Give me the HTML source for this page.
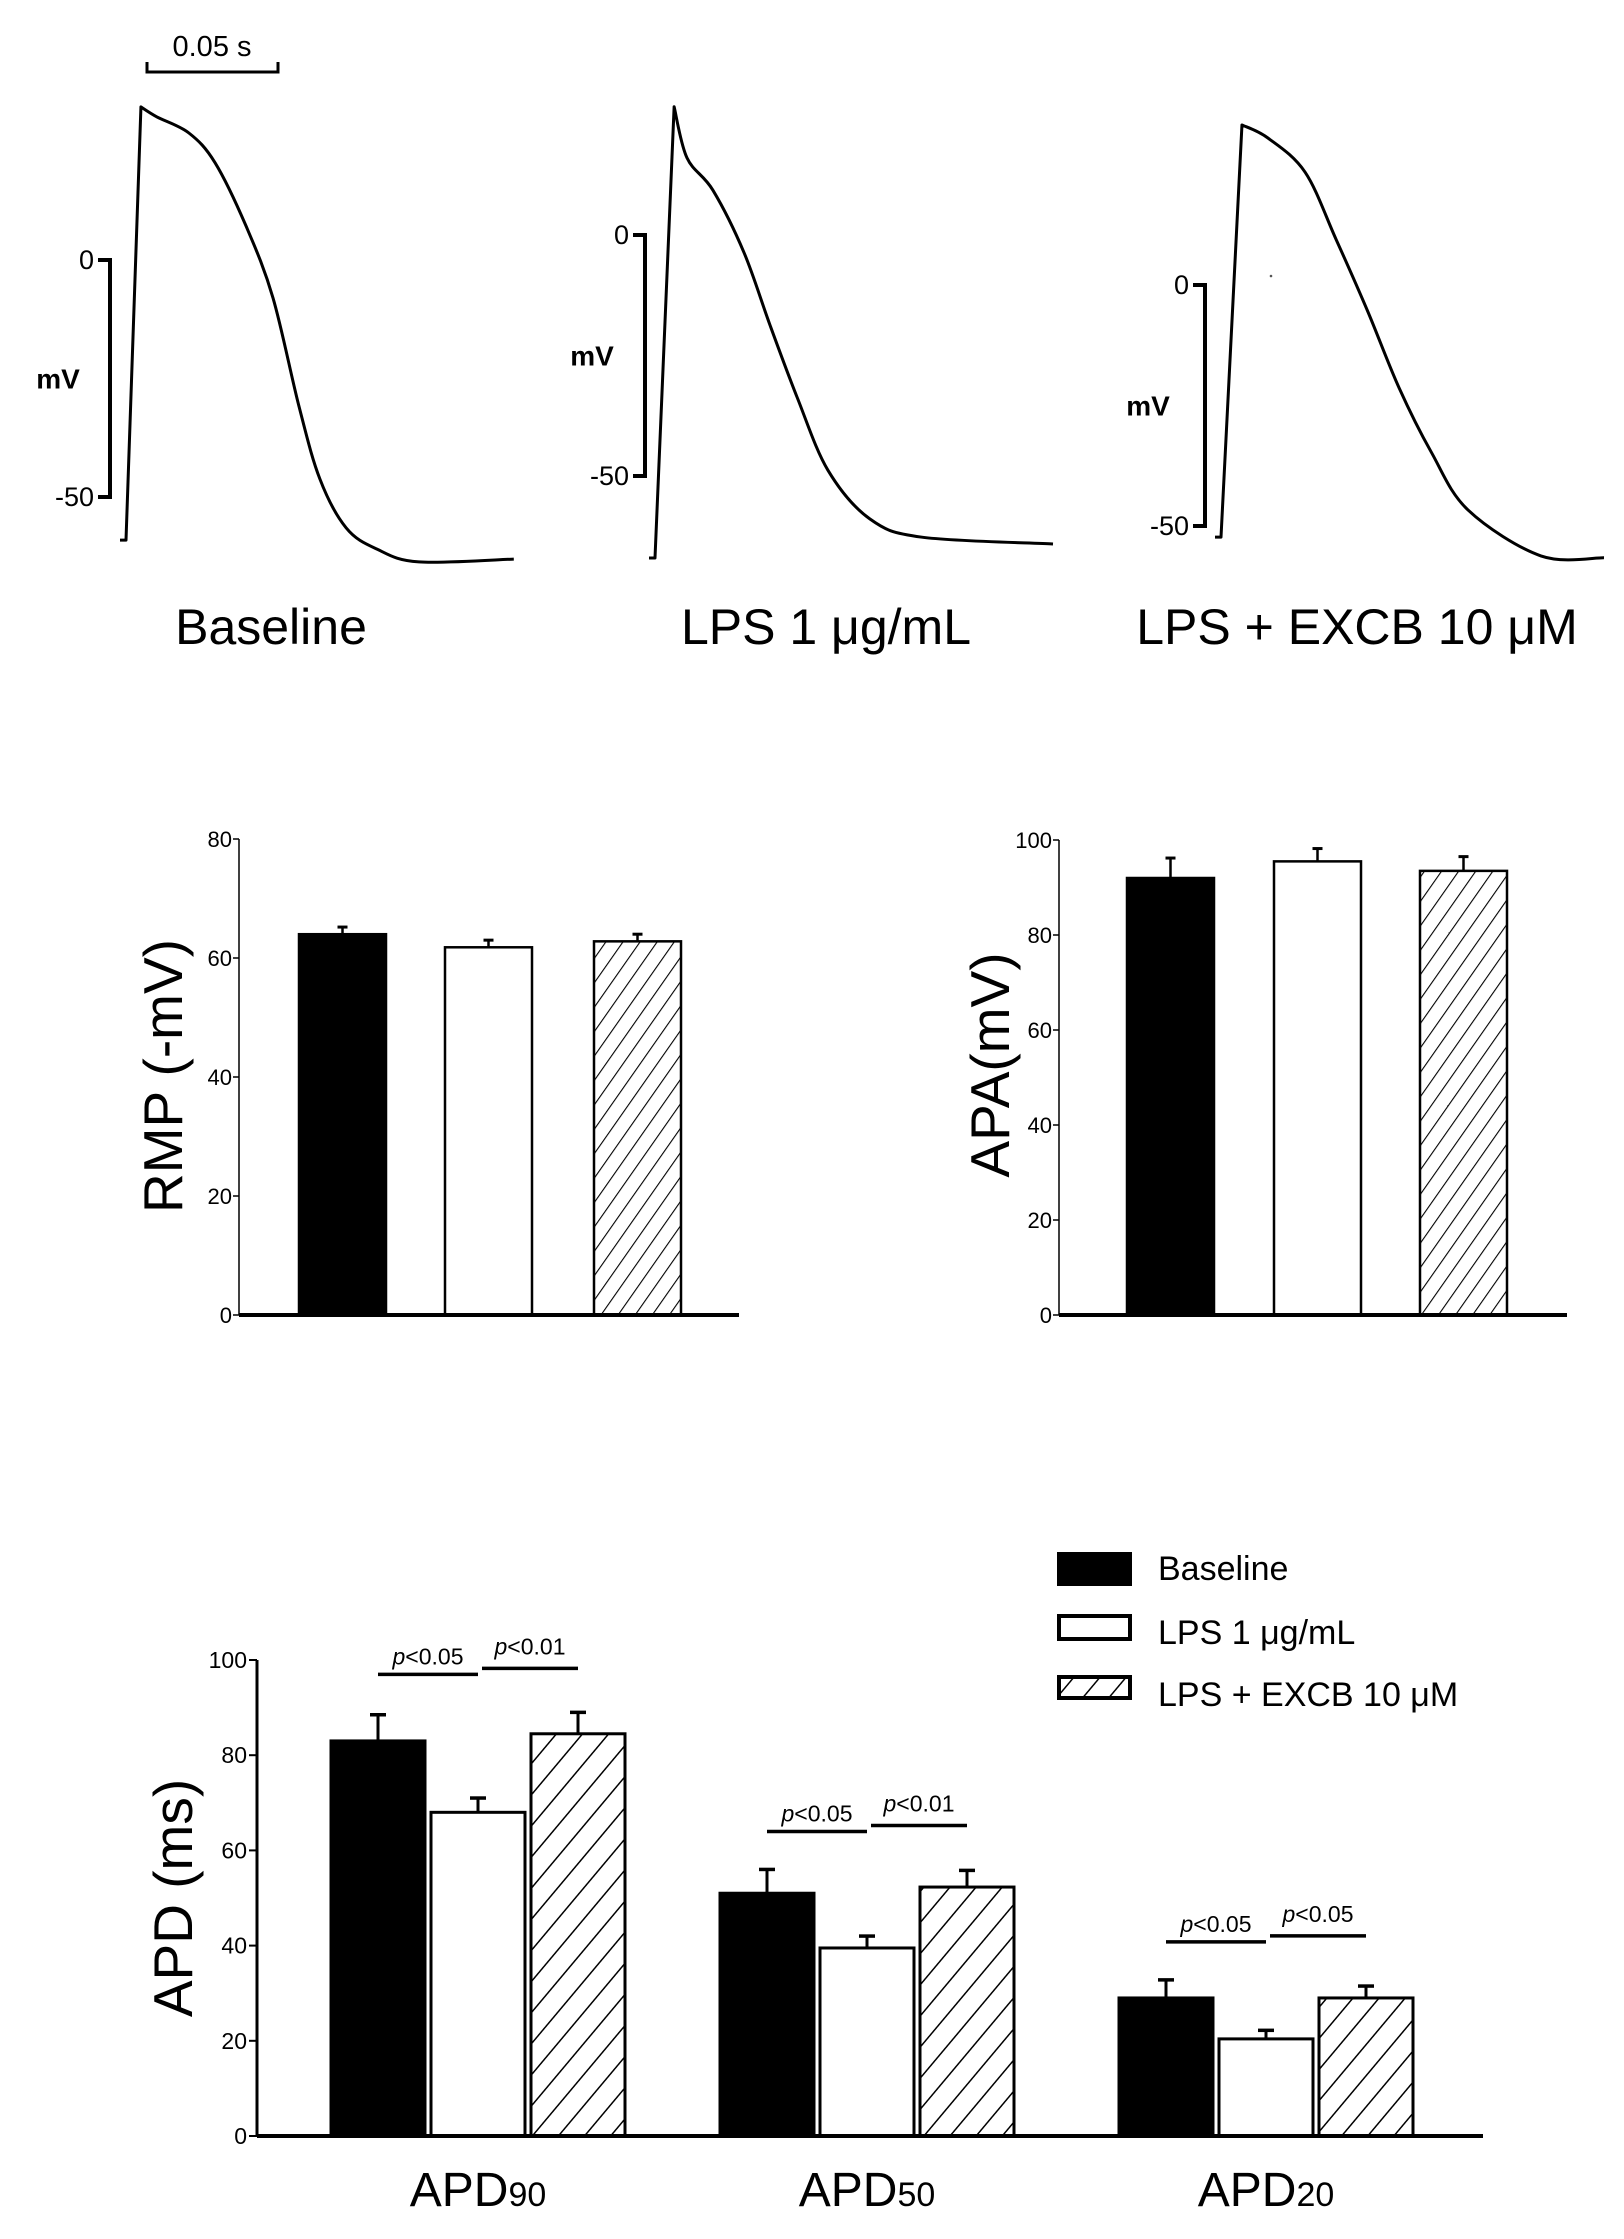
<!DOCTYPE html>
<html><head><meta charset="utf-8"><style>
html,body{margin:0;padding:0;background:#fff}
svg{display:block;font-family:"Liberation Sans",Arial,sans-serif}
</style></head><body>
<svg id="fig" width="1624" height="2239" viewBox="0 0 1624 2239" xmlns="http://www.w3.org/2000/svg">
<defs>
<pattern id="hatchS" patternUnits="userSpaceOnUse" width="14" height="14" patternTransform="rotate(35)"><rect width="14" height="14" fill="#fff"/><line x1="0" y1="0" x2="0" y2="14" stroke="#000" stroke-width="2.2"/></pattern>
<pattern id="hatchL" patternUnits="userSpaceOnUse" width="20" height="20" patternTransform="rotate(40)"><rect width="20" height="20" fill="#fff"/><line x1="0" y1="0" x2="0" y2="20" stroke="#000" stroke-width="3"/></pattern>
</defs>
<g id="traces"></g>
<g id="rmp"></g>
<g id="apa"></g>
<g id="apd"></g>
</svg>
<script>
// ---- data ----
const traceNames = ["Baseline", "LPS 1 \u03bcg/mL", "LPS + EXCB 10 \u03bcM"];
const trace1T = [0, 5.7, 11.8, 24, 34, 45.8, 56.1, 66, 74, 84, 95.8, 111.8, 148];
const trace1V = [-59.1, 32.3, 30.2, 26.8, 20.5, 7.2, -8, -30.8, -46.2, -56.5, -61, -63.7, -63.1];
const trace2T = [0, 7.3, 12.2, 22.1, 34, 43.9, 54.2, 66, 82, 101.9, 151.9];
const trace2V = [-67, 26.6, 16, 9.3, -3.7, -18.7, -33.6, -48.8, -58.9, -62.7, -64.1];
const trace3T = [0, 8, 17.9, 32.1, 43.9, 56.1, 68, 80.2, 94.3, 122.1, 146.2];
const trace3V = [-52.3, 33.2, 30.5, 23.4, 9.5, -5.6, -21.4, -34.6, -46.7, -56.2, -56.6];

const groups = ["Baseline", "LPS 1 \u03bcg/mL", "LPS + EXCB 10 \u03bcM"];
const rmpMean = [64, 61.8, 62.8];
const rmpErr = [1.2, 1.2, 1.2];
const rmpTicks = [0, 20, 40, 60, 80];
const apaMean = [92, 95.5, 93.5];
const apaErr = [4.2, 2.7, 3.0];
const apaTicks = [0, 20, 40, 60, 80, 100];
const apdCats = ["90", "50", "20"];
const apdBaseline = [83, 51, 29];
const apdLPS = [68, 39.5, 20.4];
const apdEXCB = [84.5, 52.3, 29];
const apdBaselineErr = [5.5, 5, 3.8];
const apdLPSErr = [3, 2.5, 1.8];
const apdEXCBErr = [4.5, 3.5, 2.5];
const apdTicks = [0, 20, 40, 60, 80, 100];
const pLeft = ["p<0.05", "p<0.05", "p<0.05"];
const pRight = ["p<0.01", "p<0.01", "p<0.05"];

// ---- helpers ----
const NS = "http://www.w3.org/2000/svg";
function mk(parent, tag, attrs, text) {
  const e = document.createElementNS(NS, tag);
  for (const k in attrs) e.setAttribute(k, attrs[k]);
  if (text !== undefined) e.textContent = text;
  parent.appendChild(e);
  return e;
}

// ---- traces ----
const tg = document.getElementById("traces");
const panels = [
  {T: trace1T, V: trace1V, x0: 126, y0: 260, ppm: 4.74, ax: 110, labmx: 58},
  {T: trace2T, V: trace2V, x0: 655, y0: 235, ppm: 4.82, ax: 645, labmx: 592},
  {T: trace3T, V: trace3V, x0: 1221, y0: 285, ppm: 4.82, ax: 1205, labmx: 1148}
];
const pxPerMs = 2.62;
const labelX = [271, 826, 1357];
panels.forEach((p, i) => {
  const xs = t => p.x0 + t * pxPerMs;
  const ys = v => p.y0 - v * p.ppm;
  const pts = p.T.map((t, j) => [xs(t), ys(p.V[j])]);
  let d = "M" + (pts[0][0] - 6) + "," + pts[0][1] + " L" + pts[0][0] + "," + pts[0][1] + " L" + pts[1][0] + "," + pts[1][1];
  for (let j = 1; j < pts.length - 1; j++) {
    const p0 = pts[Math.max(j - 1, 1)], p1 = pts[j], p2 = pts[j + 1], p3 = pts[Math.min(j + 2, pts.length - 1)];
    const c1x = p1[0] + (p2[0] - p0[0]) / 6, c1y = p1[1] + (p2[1] - p0[1]) / 6;
    const c2x = p2[0] - (p3[0] - p1[0]) / 6, c2y = p2[1] - (p3[1] - p1[1]) / 6;
    d += ` C${c1x.toFixed(1)},${c1y.toFixed(1)} ${c2x.toFixed(1)},${c2y.toFixed(1)} ${p2[0].toFixed(1)},${p2[1].toFixed(1)}`;
  }
  const path = mk(tg, "path", {d: d, fill: "none", stroke: "#000", "stroke-width": 3, "stroke-linejoin": "round"});
  
  
  const br = mk(tg, "path", {d: `M${p.ax-12},${ys(0)} H${p.ax} V${ys(-50)} H${p.ax-12}`, fill: "none", stroke: "#000", "stroke-width": 4});
  
  
  const t0 = mk(tg, "text", {x: p.ax - 16, y: ys(0) + 9, "text-anchor": "end", "font-size": 27}, "0");
  
  
  const t50 = mk(tg, "text", {x: p.ax - 16, y: ys(-50) + 9, "text-anchor": "end", "font-size": 27}, "-50");
  
  
  const tm = mk(tg, "text", {x: p.labmx, y: ys(-25) + 10, "text-anchor": "middle", "font-size": 28, "font-weight": "bold"}, "mV");
  
  
  const tn = mk(tg, "text", {x: labelX[i], y: 644, "text-anchor": "middle", "font-size": 50}, traceNames[i]);
  
  
});
const sb = mk(tg, "path", {d: "M147,62 V72 H278 V62", fill: "none", stroke: "#000", "stroke-width": 3});


const sbt = mk(tg, "text", {x: 212, y: 56, "text-anchor": "middle", "font-size": 29}, "0.05 s");


const dot = mk(tg, "circle", {cx: 1271, cy: 276, r: 1.3, fill: "#555"});



// ---- small bar charts ----
const fills = ["#000", "#fff", "url(#hatchS)"];
function smallChart(gid, axX, xEnd, yBot, yTop, ymax, ticks, means, errs, barX, ylabel, ylx, yly) {
  const g = document.getElementById(gid);
  const ys = v => yBot - (v / ymax) * (yBot - yTop);
  const ax = mk(g, "line", {x1: axX, y1: ys(ymax), x2: axX, y2: yBot, stroke: "#000", "stroke-width": 1.5});
  
  
  ticks.forEach(t => {
    const tl = mk(g, "line", {x1: axX - 6, y1: ys(t), x2: axX, y2: ys(t), stroke: "#000", "stroke-width": 1.5});
    
    
    const tt = mk(g, "text", {x: axX - 7, y: ys(t) + 8, "text-anchor": "end", "font-size": 22}, String(t));
    
    
  });
  means.forEach((m, i) => {
    const w = 87, cx = barX[i] + w / 2;
    const el = mk(g, "line", {x1: cx, y1: ys(m), x2: cx, y2: ys(m + errs[i]), stroke: "#000", "stroke-width": 2.5});
    
    
    const ec = mk(g, "line", {x1: cx - 5, y1: ys(m + errs[i]), x2: cx + 5, y2: ys(m + errs[i]), stroke: "#000", "stroke-width": 3});
    
    
    const r = mk(g, "rect", {x: barX[i], y: ys(m), width: w, height: yBot - ys(m), fill: fills[i], stroke: "#000", "stroke-width": 2.5});
    
    
  });
  const xa = mk(g, "line", {x1: axX, y1: yBot, x2: xEnd, y2: yBot, stroke: "#000", "stroke-width": 4});
  
  
  const yl = mk(g, "text", {x: ylx, y: yly, "text-anchor": "middle", "font-size": 55, transform: `rotate(-90 ${ylx} ${yly})`}, ylabel);
  
  
}
smallChart("rmp", 239, 739, 1315, 839, 80, rmpTicks, rmpMean, rmpErr, [299, 445, 594], "RMP (-mV)", 182, 1076);
smallChart("apa", 1059, 1567, 1315, 840, 100, apaTicks, apaMean, apaErr, [1127, 1274, 1420], "APA(mV)", 1009, 1065);

// ---- APD chart ----
(function () {
  const g = document.getElementById("apd");
  const axX = 257, yBot = 2136, yTop = 1660, ymax = 100, xEnd = 1483;
  const ys = v => yBot - (v / ymax) * (yBot - yTop);
  const groupStart = [331, 720, 1119];
  const barW = 94, step = 100;
  const series = [apdBaseline, apdLPS, apdEXCB];
  const errs = [apdBaselineErr, apdLPSErr, apdEXCBErr];
  const bf = ["#000", "#fff", "url(#hatchL)"];
  const ax = mk(g, "line", {x1: axX, y1: ys(ymax), x2: axX, y2: yBot, stroke: "#000", "stroke-width": 3});
  
  
  apdTicks.forEach(t => {
    const tl = mk(g, "line", {x1: axX - 8, y1: ys(t), x2: axX, y2: ys(t), stroke: "#000", "stroke-width": 2});
    
    
    const tt = mk(g, "text", {x: axX - 10, y: ys(t) + 8, "text-anchor": "end", "font-size": 23}, String(t));
    
    
  });
  apdCats.forEach((c, ci) => {
    const centers = [];
    series.forEach((s, si) => {
      const x = groupStart[ci] + si * step, cx = x + barW / 2, m = s[ci], e = errs[si][ci];
      centers.push(cx);
      const el = mk(g, "line", {x1: cx, y1: ys(m), x2: cx, y2: ys(m + e), stroke: "#000", "stroke-width": 3});
      
      
      const ec = mk(g, "line", {x1: cx - 8, y1: ys(m + e), x2: cx + 8, y2: ys(m + e), stroke: "#000", "stroke-width": 3.5});
      
      
      const r = mk(g, "rect", {x: x, y: ys(m), width: barW, height: yBot - ys(m), fill: bf[si], stroke: "#000", "stroke-width": 3});
      
      
    });
    const top = Math.max(series[0][ci] + errs[0][ci], series[2][ci] + errs[2][ci]);
    const yL = ys(top) - 38, yR = yL - 6;
    const l1 = mk(g, "line", {x1: centers[0], y1: yL, x2: centers[1], y2: yL, stroke: "#000", "stroke-width": 3.5});
    
    
    const l2 = mk(g, "line", {x1: centers[1] + 4, y1: yR, x2: centers[2], y2: yR, stroke: "#000", "stroke-width": 3.5});
    
    
    [[pLeft[ci], (centers[0] + centers[1]) / 2, yL - 10], [pRight[ci], (centers[1] + centers[2]) / 2 + 2, yR - 14]].forEach(([txt, x, y]) => {
      const t = mk(g, "text", {x: x, y: y, "text-anchor": "middle", "font-size": 23});
      
      
      mk(t, "tspan", {"font-style": "italic"}, "p");
      mk(t, "tspan", {}, txt.slice(1));
    });
    const lx = (groupStart[ci] + groupStart[ci] + 2 * step + barW) / 2;
    const xl = mk(g, "text", {x: lx, y: 2206, "text-anchor": "middle", "font-size": 48});
    
    
    mk(xl, "tspan", {}, "APD");
    mk(xl, "tspan", {"font-size": 34}, c);
  });
  const xa = mk(g, "line", {x1: axX, y1: yBot, x2: xEnd, y2: yBot, stroke: "#000", "stroke-width": 4});
  
  
  const yl = mk(g, "text", {x: 192, y: 1898, "text-anchor": "middle", "font-size": 55, transform: "rotate(-90 192 1898)"}, "APD (ms)");
  
  
  const legY = [1554, 1616, 1677];
  const legH = [30, 23, 21];
  const legBase = [1580, 1644, 1706];
  groups.forEach((nm, i) => {
    const b = mk(g, "rect", {x: 1059, y: legY[i], width: 71, height: legH[i], fill: bf[i], stroke: "#000", "stroke-width": 4});
    
    
    const t = mk(g, "text", {x: 1158, y: legBase[i], "font-size": 34}, nm);
    
    
  });
})();
</script>
</body></html>
